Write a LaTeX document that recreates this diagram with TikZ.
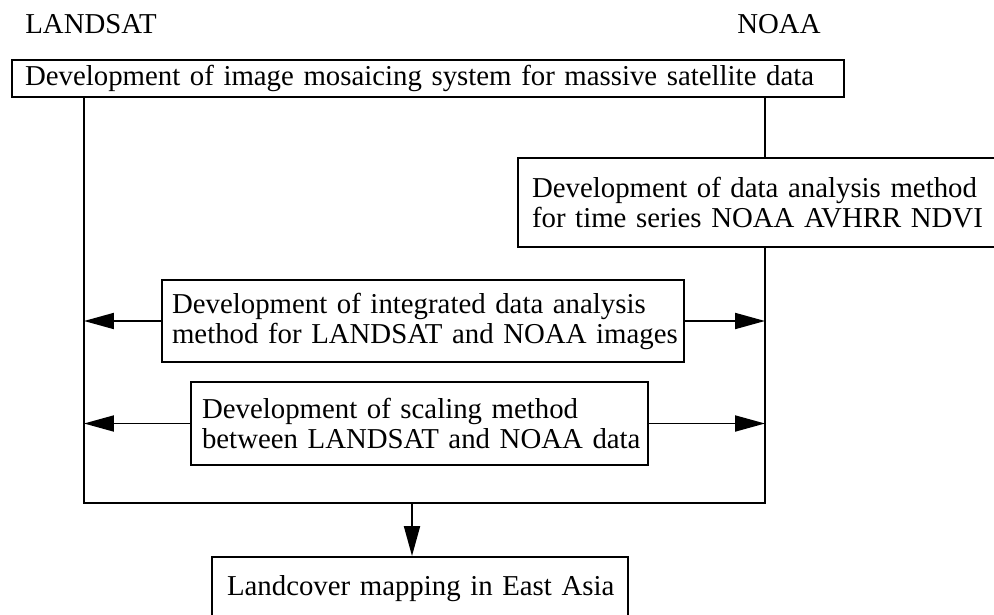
\documentclass[tikz,border=0pt]{standalone}
\usepackage{fontspec}
\setmainfont{Liberation Serif}
\usetikzlibrary{positioning,calc,arrows.meta}

\begin{document}
\begin{tikzpicture}[
    x=0.02cm, y=-0.02cm,
    every node/.style={font=\fontsize{16.4}{17.1}\selectfont},
    task/.style={draw, line width=1.1pt, inner ysep=0pt, align=left},
    link/.style={draw, line width=1.1pt},
    arr/.style={link, -{Triangle[length=6mm, width=3.2mm]}}
]
\useasboundingbox (0,0) rectangle (994,615);

% Satellite labels
\node (landsat) at (91,24) {LANDSAT};
\node (noaa) at (779,24) {NOAA};

% Define boxes
\node[task, text width=16.12cm, inner xsep=0.26cm, minimum height=0.74cm] (mosaic) at (428,78.5)
    {\mbox{Development of image mosaicing system for massive satellite data}};
\node[task, text width=9.08cm, inner xsep=0.28cm, minimum height=1.78cm] (ndvi) at (759,202.5)
    {\mbox{Development of data analysis method}\\\mbox{for time series NOAA AVHRR NDVI}};
\node[task, text width=10.04cm, inner xsep=0.2cm, minimum height=1.64cm] (integ) at (423,321)
    {\mbox{Development of integrated data analysis}\\\mbox{method for LANDSAT and NOAA images}};
\node[task, text width=8.70cm, inner xsep=0.22cm, minimum height=1.66cm] (scaling) at (419.5,423.5)
    {\mbox{Development of scaling method}\\\mbox{between LANDSAT and NOAA data}};
\node[task, text width=7.72cm, inner xsep=0.3cm, minimum height=1.28cm] (landcover) at (420,589)
    {\mbox{Landcover mapping in East Asia}};

% Corners of the frame
\coordinate (leftfoot) at (84,503);
\coordinate (rightfoot) at (765,503);
\coordinate (merge) at (412,503);

% Frame lines
\draw[link] (mosaic.south -| leftfoot) -- (leftfoot) -- (rightfoot) -- (ndvi.south -| rightfoot);
\draw[link] (mosaic.south -| rightfoot) -- (ndvi.north -| rightfoot);

% Arrows out of the middle boxes
\draw[arr] (integ.west) -- (integ.west -| leftfoot);
\draw[arr] (integ.east) -- (integ.east -| rightfoot);
\draw[arr] (scaling.west) -- (scaling.west -| leftfoot);
\draw[arr] (scaling.east) -- (scaling.east -| rightfoot);

% Down to the result
\draw[arr] (merge) -- (landcover.north -| merge);

\end{tikzpicture}
\end{document}
